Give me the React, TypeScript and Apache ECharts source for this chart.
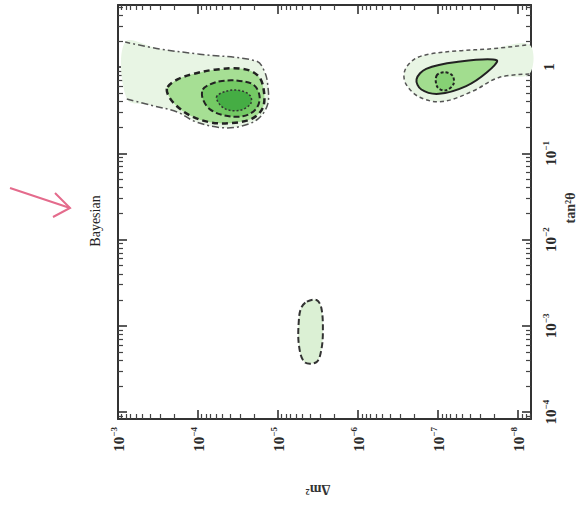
import React, { useEffect, useRef } from "react";
import * as echarts from "echarts";

// Axis decades (log10 values)
const dm2Exponents = [-3, -4, -5, -6, -7, -8];
const tanExponents = [0, -1, -2, -3, -4];

// Contours in (log10 Δm², log10 tan²θ)
const lmaOuter = [
  [-3.11, -0.37], [-3.4, -0.44], [-3.74, -0.52], [-3.96, -0.63], [-4.27, -0.7],
  [-4.52, -0.69], [-4.75, -0.6], [-4.87, -0.43], [-4.87, -0.2], [-4.83, -0.05],
  [-4.73, 0.07], [-4.02, 0.15], [-3.52, 0.21], [-3.09, 0.29],
];
const lma90 = [
  [-3.62, -0.23], [-3.75, -0.14], [-3.94, -0.08], [-4.21, -0.03], [-4.56, -0.02],
  [-4.75, -0.1], [-4.82, -0.26], [-4.81, -0.47], [-4.67, -0.6], [-4.4, -0.65],
  [-4.15, -0.64], [-3.9, -0.56], [-3.71, -0.43], [-3.62, -0.31],
];
const lma68 = [
  [-4.06, -0.26], [-4.15, -0.2], [-4.3, -0.16], [-4.52, -0.16], [-4.7, -0.21],
  [-4.77, -0.35], [-4.72, -0.49], [-4.56, -0.57], [-4.33, -0.56], [-4.15, -0.49],
  [-4.06, -0.37],
];
const lmaCore = [
  [-4.23, -0.35], [-4.35, -0.28], [-4.52, -0.27], [-4.65, -0.33], [-4.66, -0.42],
  [-4.53, -0.5], [-4.33, -0.48],
];
const lowOuter = [
  [-8.14, -0.08], [-7.76, -0.12], [-7.43, -0.28], [-7.05, -0.4], [-6.77, -0.35],
  [-6.6, -0.2], [-6.58, -0.05], [-6.7, 0.09], [-6.89, 0.15], [-7.26, 0.19],
  [-7.64, 0.21], [-8.14, 0.26],
];
const low90 = [
  [-6.73, -0.14], [-6.85, -0.02], [-7.23, 0.06], [-7.73, 0.08], [-7.61, -0.06],
  [-7.35, -0.22], [-7.01, -0.31], [-6.79, -0.26],
];
const lowCore = [
  [-6.98, -0.1], [-7.08, -0.06], [-7.18, -0.1], [-7.19, -0.2], [-7.09, -0.27], [-6.99, -0.23],
];
const sma = [
  [-5.36, -2.72], [-5.48, -2.7], [-5.54, -2.79], [-5.56, -3.05], [-5.54, -3.28],
  [-5.48, -3.42], [-5.33, -3.42], [-5.26, -3.22], [-5.26, -2.93], [-5.29, -2.79],
];

const X_MIN = -8.16;
const X_MAX = -3;
const Y_MIN = -4.08;
const Y_MAX = 0.72;
const SERIF = "'Liberation Serif', 'DejaVu Serif', serif";

function minorTicks(lo: number, hi: number) {
  const out: number[] = [];
  for (let d = Math.floor(lo) - 1; d <= Math.ceil(hi); d++) {
    for (let k = 2; k <= 9; k++) {
      const v = d + Math.log10(k);
      if (v > lo && v < hi) out.push(v);
    }
  }
  return out;
}

function contour(
  pts: number[][],
  fill: string,
  stroke: string,
  dash: number[] | null,
  width: number,
  open: boolean
) {
  return {
    type: "custom",
    coordinateSystem: "cartesian2d",
    xAxisIndex: 0,
    yAxisIndex: 0,
    silent: true,
    data: pts,
    renderItem: (params: any, api: any) => {
      if (params.dataIndex !== 0) return null;
      const p = pts.map((q) => api.coord(q));
      const children: any[] = [
        {
          type: "polygon",
          shape: { points: p, smooth: 0.35 },
          style: {
            fill,
            stroke: open ? "none" : stroke,
            lineWidth: width,
            lineDash: dash || undefined,
          },
        },
      ];
      if (open) {
        children.push({
          type: "polyline",
          shape: { points: p, smooth: 0.35 },
          style: { fill: "none", stroke, lineWidth: width, lineDash: dash || undefined },
        });
      }
      return { type: "group", children };
    },
  };
}

const labelRich = {
  b: { fontSize: 15, fontWeight: "bold", fontFamily: SERIF, color: "#2a2a2a", verticalAlign: "bottom" },
  e: { fontSize: 9, fontWeight: "bold", fontFamily: SERIF, color: "#2a2a2a", verticalAlign: "bottom", padding: [0, 0, 8, 0] },
};
const powLabel = (v: number) => {
  const n = Math.round(v);
  if (n === 0) return "{b|1}";
  return "{b|10}{e|" + (n < 0 ? "−" + Math.abs(n) : String(n)) + "}";
};

export default function App() {
  const ref = useRef<HTMLDivElement>(null);
  useEffect(() => {
    if (!ref.current) return;
    const chart = echarts.init(ref.current, null, { renderer: "svg" });
    const axisLine = { show: true, onZero: false, lineStyle: { color: "#333", width: 2 } };
    const noLine = { show: false, onZero: false };
    const majorTick = (vals: number[]) => ({
      show: true, inside: true, length: 9, customValues: vals, lineStyle: { color: "#333", width: 1.6 },
    });
    const minorTick = (vals: number[]) => ({
      show: true, inside: true, length: 5, customValues: vals, lineStyle: { color: "#444", width: 1.2 },
    });
    const minorX = minorTicks(X_MIN, X_MAX);
    const minorY = minorTicks(Y_MIN, Y_MAX);
    const xBase = { type: "value", inverse: true, min: X_MIN, max: X_MAX, splitLine: { show: false } };
    const yBase = { type: "value", min: Y_MIN, max: Y_MAX, splitLine: { show: false } };

    chart.setOption({
      animation: false,
      backgroundColor: "#ffffff",
      grid: { left: 118, right: 55, top: 5, bottom: 88, containLabel: false },
      xAxis: [
        {
          ...xBase, position: "bottom", axisLine, axisTick: majorTick(dm2Exponents),
          axisLabel: { show: true, customValues: dm2Exponents, rotate: 90, margin: 8, formatter: powLabel, rich: labelRich },
        },
        { ...xBase, position: "bottom", axisLine: noLine, axisTick: minorTick(minorX), axisLabel: { show: false } },
        { ...xBase, position: "top", axisLine, axisTick: majorTick(dm2Exponents), axisLabel: { show: false } },
        { ...xBase, position: "top", axisLine: noLine, axisTick: minorTick(minorX), axisLabel: { show: false } },
      ],
      yAxis: [
        {
          ...yBase, position: "right", axisLine, axisTick: majorTick(tanExponents),
          axisLabel: { show: true, customValues: tanExponents, rotate: 90, margin: 10, formatter: powLabel, rich: labelRich },
        },
        { ...yBase, position: "right", axisLine: noLine, axisTick: minorTick(minorY), axisLabel: { show: false } },
        { ...yBase, position: "left", axisLine, axisTick: majorTick(tanExponents), axisLabel: { show: false } },
        { ...yBase, position: "left", axisLine: noLine, axisTick: minorTick(minorY), axisLabel: { show: false } },
      ],
      series: [
        contour(lmaOuter, "#e8f5e4", "#555", [7, 3, 2, 3], 1.5, true),
        contour(lma90, "#a6df94", "#222", [6, 4], 2.5, false),
        contour(lma68, "#74c964", "#222", [6, 3], 2, false),
        contour(lmaCore, "#45ad44", "#333", [2, 2], 1.5, false),
        contour(lowOuter, "#e8f5e4", "#555", [4, 3], 1.5, true),
        contour(low90, "#a2dd8f", "#222", null, 2, false),
        contour(lowCore, "#86d074", "#222", [3, 2], 2, false),
        contour(sma, "#dbf0d4", "#333", [6, 3], 2, false),
      ],
      graphic: [
        {
          type: "text", x: 318, y: 489, rotation: Math.PI,
          style: { text: "Δm²", font: "bold 14px " + SERIF, fill: "#333", align: "center", verticalAlign: "middle" },
        },
        {
          type: "text", x: 570, y: 208, rotation: Math.PI / 2,
          style: { text: "tan²θ", font: "bold 14px " + SERIF, fill: "#333", align: "center", verticalAlign: "middle" },
        },
        {
          type: "text", x: 95, y: 221, rotation: Math.PI / 2,
          style: { text: "Bayesian", font: "14px " + SERIF, fill: "#222", align: "center", verticalAlign: "middle" },
        },
        {
          type: "polyline", shape: { points: [[10, 188], [70, 208]] },
          style: { stroke: "#e46b8c", lineWidth: 2, fill: "none" },
        },
        {
          type: "polyline", shape: { points: [[55, 193], [70, 208], [53, 217]] },
          style: { stroke: "#e46b8c", lineWidth: 2, fill: "none" },
        },
      ],
    });
    return () => chart.dispose();
  }, []);
  return <div ref={ref} style={{ position: "absolute", left: 0, top: 0, width: 586, height: 507 }} />;
}
